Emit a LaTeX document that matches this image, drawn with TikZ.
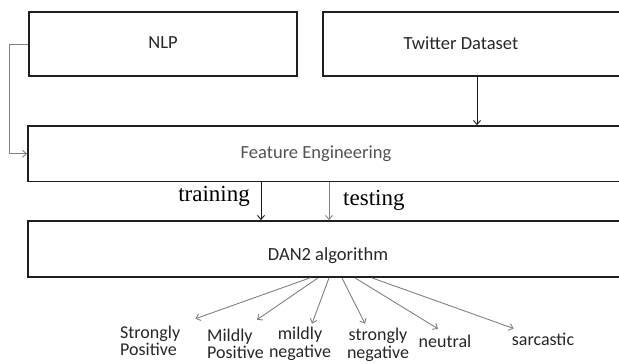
\documentclass[tikz,border=0pt]{standalone}
\usepackage{fontspec}
\setmainfont{Carlito}
\newfontfamily\timesfont{Liberation Serif}
\usetikzlibrary{arrows.meta}

\tikzset{
  box/.style={draw=black!88, line width=1.8pt, rectangle, inner sep=0pt},
  boxtext/.style={font=\fontsize{18.5}{20}\selectfont, text=black!85, inner sep=0pt},
  leaf/.style={font=\fontsize{18}{17.5}\selectfont, text=black!85, inner sep=0pt},
  split/.style={font=\timesfont\fontsize{23}{26}\selectfont, inner sep=0pt},
  blackarr/.style={draw=black!90, line width=0.9pt, -{Straight Barb[length=4pt,width=7pt]}},
  grayarr/.style={draw=black!50, line width=0.9pt, -{Straight Barb[length=4pt,width=7pt]}},
}

\begin{document}
\begin{tikzpicture}[x=1pt,y=-1pt]
\useasboundingbox (0,0) rectangle (619,364);
\clip (0,0) rectangle (619,364);
% boxes
\node[box, minimum width=268pt, minimum height=64pt] (nlp) at (163,44) {};
\node[box, minimum width=302pt, minimum height=64pt] (tw) at (474,44) {};
\node[box, minimum width=597pt, minimum height=55.5pt] (fe) at (326.5,153.75) {};
\node[box, minimum width=597pt, minimum height=56pt] (dan) at (326.5,249) {};
\node[boxtext] (nlptext) at (163,43) {NLP};
\node[boxtext] (twtext) at (461,43.5) {Twitter Dataset};
\node[boxtext, text=black!68] (fetext) at (316,154) {Feature Engineering};
\node[boxtext] (dantext) at (328,256) {DAN2 algorithm};
% split labels
\node[split, anchor=east] (train) at (250,196) {training};
\node[split, anchor=west] (test) at (343,200) {testing};
% classes
\node[leaf, anchor=west, align=left] (sp) at (120,341) {Strongly\\Positive};
\node[leaf, anchor=west, align=left] (mp) at (207,344) {Mildly\\Positive};
\node[leaf, align=center] (mn) at (300,344) {mildly\\negative};
\node[leaf, align=center] (sn) at (378,345) {strongly\\negative};
\node[leaf] (neu) at (445,341) {neutral};
\node[leaf] (sar) at (543,339) {sarcastic};
% connectors
\draw[grayarr] (nlp.west) -- ++(-19,0) |- (fe.west);
\draw[blackarr] ([xshift=3pt]tw.south) -- ([xshift=3pt]tw.south |- fe.north);
\draw[blackarr] ([xshift=-65.5pt]fe.south) -- ([xshift=-65.5pt]dan.north);
\draw[grayarr] ([xshift=2.5pt]fe.south) -- ([xshift=2.5pt]dan.north);
\draw[grayarr] ([xshift=-16.5pt]dan.south) -- ([shift={(15,-7)}]sp.north east);
\draw[grayarr] ([xshift=-8.5pt]dan.south) -- ([shift={(-7,-9)}]mp.north east);
\draw[grayarr] ([xshift=2.5pt]dan.south) -- ([shift={(12,-3.6)}]mn.north);
\draw[grayarr] ([xshift=15.5pt]dan.south) -- ([shift={(-13,-4.6)}]sn.north);
\draw[grayarr] ([xshift=28.5pt]dan.south) -- ([shift={(-7,-5.7)}]neu.north);
\draw[grayarr] ([xshift=45.5pt]dan.south) -- ([shift={(2,-4)}]sar.north west);
\end{tikzpicture}
\end{document}
